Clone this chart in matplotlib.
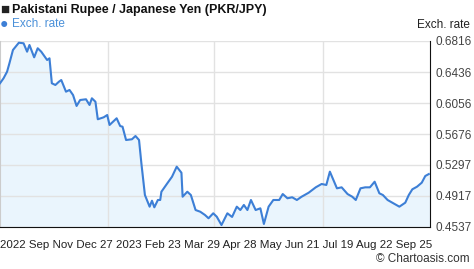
import numpy as np
import matplotlib.pyplot as plt

plt.rcParams['font.family'] = ['Liberation Sans', 'DejaVu Sans']

# days since start of the window (about 2022 Sep 25) and PKR/JPY rate
days = [0, 3, 6, 8, 11, 16, 20, 23, 25, 29, 32, 35, 40, 42, 44, 47, 50, 52,
        56, 59, 62, 65, 68, 73, 76, 78, 81, 83, 88, 91, 93, 99, 102, 104, 107,
        112, 115, 118, 120, 123, 127, 129, 131, 134, 136, 137, 142, 146, 150,
        154, 155, 159, 162, 166, 170, 174, 177, 181, 184, 188, 193, 197, 201,
        204, 207, 210, 213, 217, 221, 224, 228, 232, 237, 240, 244, 248, 252,
        256, 262, 268, 273, 277, 280, 283, 286, 290, 295, 299, 302, 306, 310,
        314, 318, 322, 325, 329, 333, 339, 344, 347, 350, 354, 358, 361, 364]
rate = [0.6298, 0.6359, 0.6440, 0.6543, 0.6706, 0.6795, 0.6788, 0.6685, 0.6767,
        0.6616, 0.6727, 0.6685, 0.6583, 0.6604, 0.6298, 0.6277, 0.6317, 0.6338,
        0.6195, 0.6216, 0.6154, 0.6020, 0.6093, 0.6102, 0.6032, 0.6114, 0.6072,
        0.5857, 0.5881, 0.5909, 0.5787, 0.5869, 0.5774, 0.5766, 0.5603, 0.5612,
        0.5652, 0.5603, 0.5317, 0.4929, 0.4786, 0.4859, 0.4778, 0.4868, 0.4868,
        0.4969, 0.5072, 0.5153, 0.5276, 0.5202, 0.4908, 0.4969, 0.4929, 0.4745,
        0.4724, 0.4684, 0.4644, 0.4705, 0.4663, 0.4561, 0.4705, 0.4660, 0.4786,
        0.4745, 0.4807, 0.4745, 0.4868, 0.4745, 0.4766, 0.4574, 0.4786, 0.4868,
        0.4868, 0.4941, 0.4889, 0.4901, 0.4868, 0.4908, 0.4957, 0.5023, 0.5064,
        0.5052, 0.5215, 0.5113, 0.5011, 0.5023, 0.4941, 0.4908, 0.4868, 0.5011,
        0.5023, 0.5023, 0.5092, 0.4950, 0.4929, 0.4868, 0.4835, 0.4786, 0.4835,
        0.4929, 0.4999, 0.5031, 0.5080, 0.5162, 0.5186]

yticks = [0.4537, 0.4917, 0.5297, 0.5676, 0.6056, 0.6436, 0.6816]
xgrid = [92, 182, 274]
xlabels = "2022 Sep Nov Dec 27 2023 Feb 23 Mar 29 Apr 28 May Jun 21 Jul 19 Aug 22 Sep 25"

fig = plt.figure(figsize=(4.74, 2.69), dpi=100)
ax = fig.add_axes([0.0, (269 - 227) / 269, 430 / 474, 186 / 269])

ax.fill_between(days, rate, yticks[0], color='#eaf5fd', zorder=1)
ax.plot(days, rate, color='#3d7fd6', lw=1.5, zorder=3)

ax.set_xlim(0, 365)
ax.set_ylim(yticks[0], yticks[-1])
ax.set_yticks(yticks)
ax.set_yticklabels([f"{v:.4f}" for v in yticks])
ax.yaxis.tick_right()
ax.tick_params(axis='y', length=0, pad=4, labelsize=8.5, labelcolor='#444444')
ax.set_xticks(xgrid)
ax.set_xticklabels([])
ax.tick_params(axis='x', length=0)
ax.grid(True, color='#e2e2e2', lw=1, zorder=0)
ax.spines['top'].set_visible(False)
ax.spines['left'].set_color('#cccccc')
ax.spines['right'].set_color('#111111')
ax.spines['bottom'].set_color('#111111')

fig.text(0.0, 1 - 10 / 269, "\u25a0", fontsize=11, va='center', ha='left', color='#222222')
fig.text(12 / 474, 1 - 10 / 269, "Pakistani Rupee / Japanese Yen (PKR/JPY)",
         fontsize=9, fontweight='bold', va='center', ha='left', color='#111111')
fig.text(0.0, 1 - 24 / 269, "\u25cf", fontsize=10, va='center', ha='left', color='#3d7fd6')
fig.text(12 / 474, 1 - 24 / 269, "Exch. rate", fontsize=8.5, va='center', ha='left',
         color='#4a90d9')
fig.text(470 / 474, 1 - 25 / 269, "Exch. rate", fontsize=8.5, va='center', ha='right',
         color='#222222')
fig.text(0.0, 1 - 245 / 269, xlabels, fontsize=8.25, va='center', ha='left', color='#222222')
fig.text(470 / 474, 1 - 259 / 269, "\u00a9 Chartoasis.com", fontsize=8.5, va='center',
         ha='right', color='#333333')

fig.savefig("out.png", dpi=100)
